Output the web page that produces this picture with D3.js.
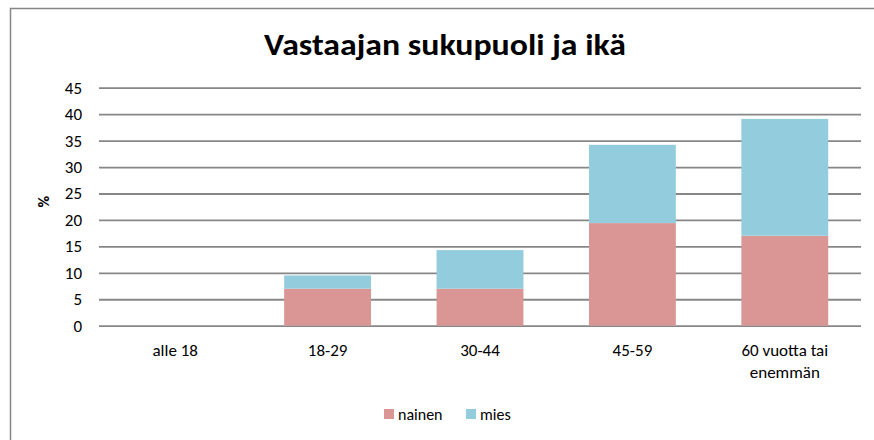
<!DOCTYPE html>
<html>
<head>
<meta charset="utf-8">
<script src="https://cdn.jsdelivr.net/npm/d3@7"></script>
<style>
  body { margin: 0; background: #fff; }
  text { font-family: Carlito, "Liberation Sans Narrow", "Open Sans", sans-serif; fill: #000; }
</style>
</head>
<body>
<div></div>
<script>
'use strict';

var categories = ["alle 18", "18-29", "30-44", "45-59", "60 vuotta tai enemmän"];
var nainen = [0, 7.0, 7.0, 19.4, 17.0];
var mies = [0, 2.5, 7.3, 14.8, 22.1];
var yTicks = [0, 5, 10, 15, 20, 25, 30, 35, 40, 45];
var seriesNames = ["nainen", "mies"];
var seriesColors = ["#d99694", "#93cddd"];

var svgWidth = 874;
var svgHeight = 440;
var margin = {top: 87.7, right: 13, bottom: 114.3, left: 99};
var chartWidth = svgWidth - margin.left - margin.right;
var chartHeight = svgHeight - margin.top - margin.bottom;
var labelFont = "Carlito, 'Liberation Sans Narrow', 'Open Sans', sans-serif";

var data = categories.map(function(c, i) {
  return {category: c, nainen: nainen[i], mies: mies[i]};
});
var stacked = d3.stack().keys(seriesNames)(data);

var xScale = d3.scaleBand()
    .domain(categories)
    .range([0, chartWidth])
    .paddingInner(0.43)
    .paddingOuter(0.215);

var yScale = d3.scaleLinear()
    .domain([0, 45])
    .range([chartHeight, 0]);

var svg = d3.select("body").select("div")
  .append("svg")
    .attr("width", svgWidth)
    .attr("height", svgHeight);

// outer frame
svg.append("rect")
    .attr("x", 10.5)
    .attr("y", 8.5)
    .attr("width", 900)
    .attr("height", 500)
    .attr("fill", "none")
    .attr("stroke", "#868686")
    .attr("stroke-width", 1.5);

svg.append("text")
    .attr("x", 445)
    .attr("y", 55)
    .attr("text-anchor", "middle")
    .attr("font-size", 30)
    .attr("font-weight", "bold")
    .attr("textLength", 362)
    .attr("lengthAdjust", "spacingAndGlyphs")
    .text("Vastaajan sukupuoli ja ikä");

var chart = svg.append("g")
    .attr("transform", "translate(" + margin.left + "," + margin.top + ")");

// gridlines + y labels
var yAxis = chart.append("g")
    .call(d3.axisLeft(yScale).tickValues(yTicks).tickSize(-chartWidth).tickPadding(17));
yAxis.select(".domain").remove();
yAxis.selectAll(".tick line")
    .attr("stroke", "#878787")
    .attr("stroke-width", 1.8);
yAxis.selectAll(".tick text")
    .attr("font-size", 17)
    .attr("font-family", labelFont)
    .attr("fill", "#000");

chart.append("text")
    .attr("transform", "translate(-50," + (chartHeight / 2 - 5) + ") rotate(-90)")
    .attr("text-anchor", "middle")
    .attr("font-size", 16)
    .attr("font-weight", "bold")
    .text("%");

// bars
chart.selectAll(".series")
  .data(stacked)
  .enter().append("g")
    .attr("class", "series")
    .attr("fill", function(d, i) { return seriesColors[i]; })
  .selectAll("rect")
  .data(function(d) { return d; })
  .enter().append("rect")
    .attr("x", function(d) { return xScale(d.data.category); })
    .attr("y", function(d) { return yScale(d[1]); })
    .attr("width", xScale.bandwidth())
    .attr("height", function(d) { return yScale(d[0]) - yScale(d[1]); });

// x labels
var xAxis = chart.append("g")
    .attr("transform", "translate(0," + chartHeight + ")")
    .call(d3.axisBottom(xScale).tickSize(0).tickPadding(18));
xAxis.select(".domain").remove();
xAxis.selectAll(".tick text")
    .attr("font-size", 17)
    .attr("font-family", labelFont)
    .attr("fill", "#000")
    .each(function(d) {
      var t = d3.select(this);
      if (d.length > 12) {
        t.text(null);
        t.append("tspan").attr("x", 0).attr("dy", "0.71em").text("60 vuotta tai");
        t.append("tspan").attr("x", 0).attr("dy", "1.3em").text("enemmän");
      }
    });

// legend
var legend = svg.append("g");
var legendX = [384, 466];
legend.selectAll("rect")
  .data(seriesNames)
  .enter().append("rect")
    .attr("x", function(d, i) { return legendX[i]; })
    .attr("y", 409)
    .attr("width", 10)
    .attr("height", 10)
    .attr("fill", function(d, i) { return seriesColors[i]; });
legend.selectAll("text")
  .data(seriesNames)
  .enter().append("text")
    .attr("x", function(d, i) { return legendX[i] + 14; })
    .attr("y", 420)
    .attr("font-size", 16)
    .text(function(d) { return d; });
</script>
</body>
</html>
